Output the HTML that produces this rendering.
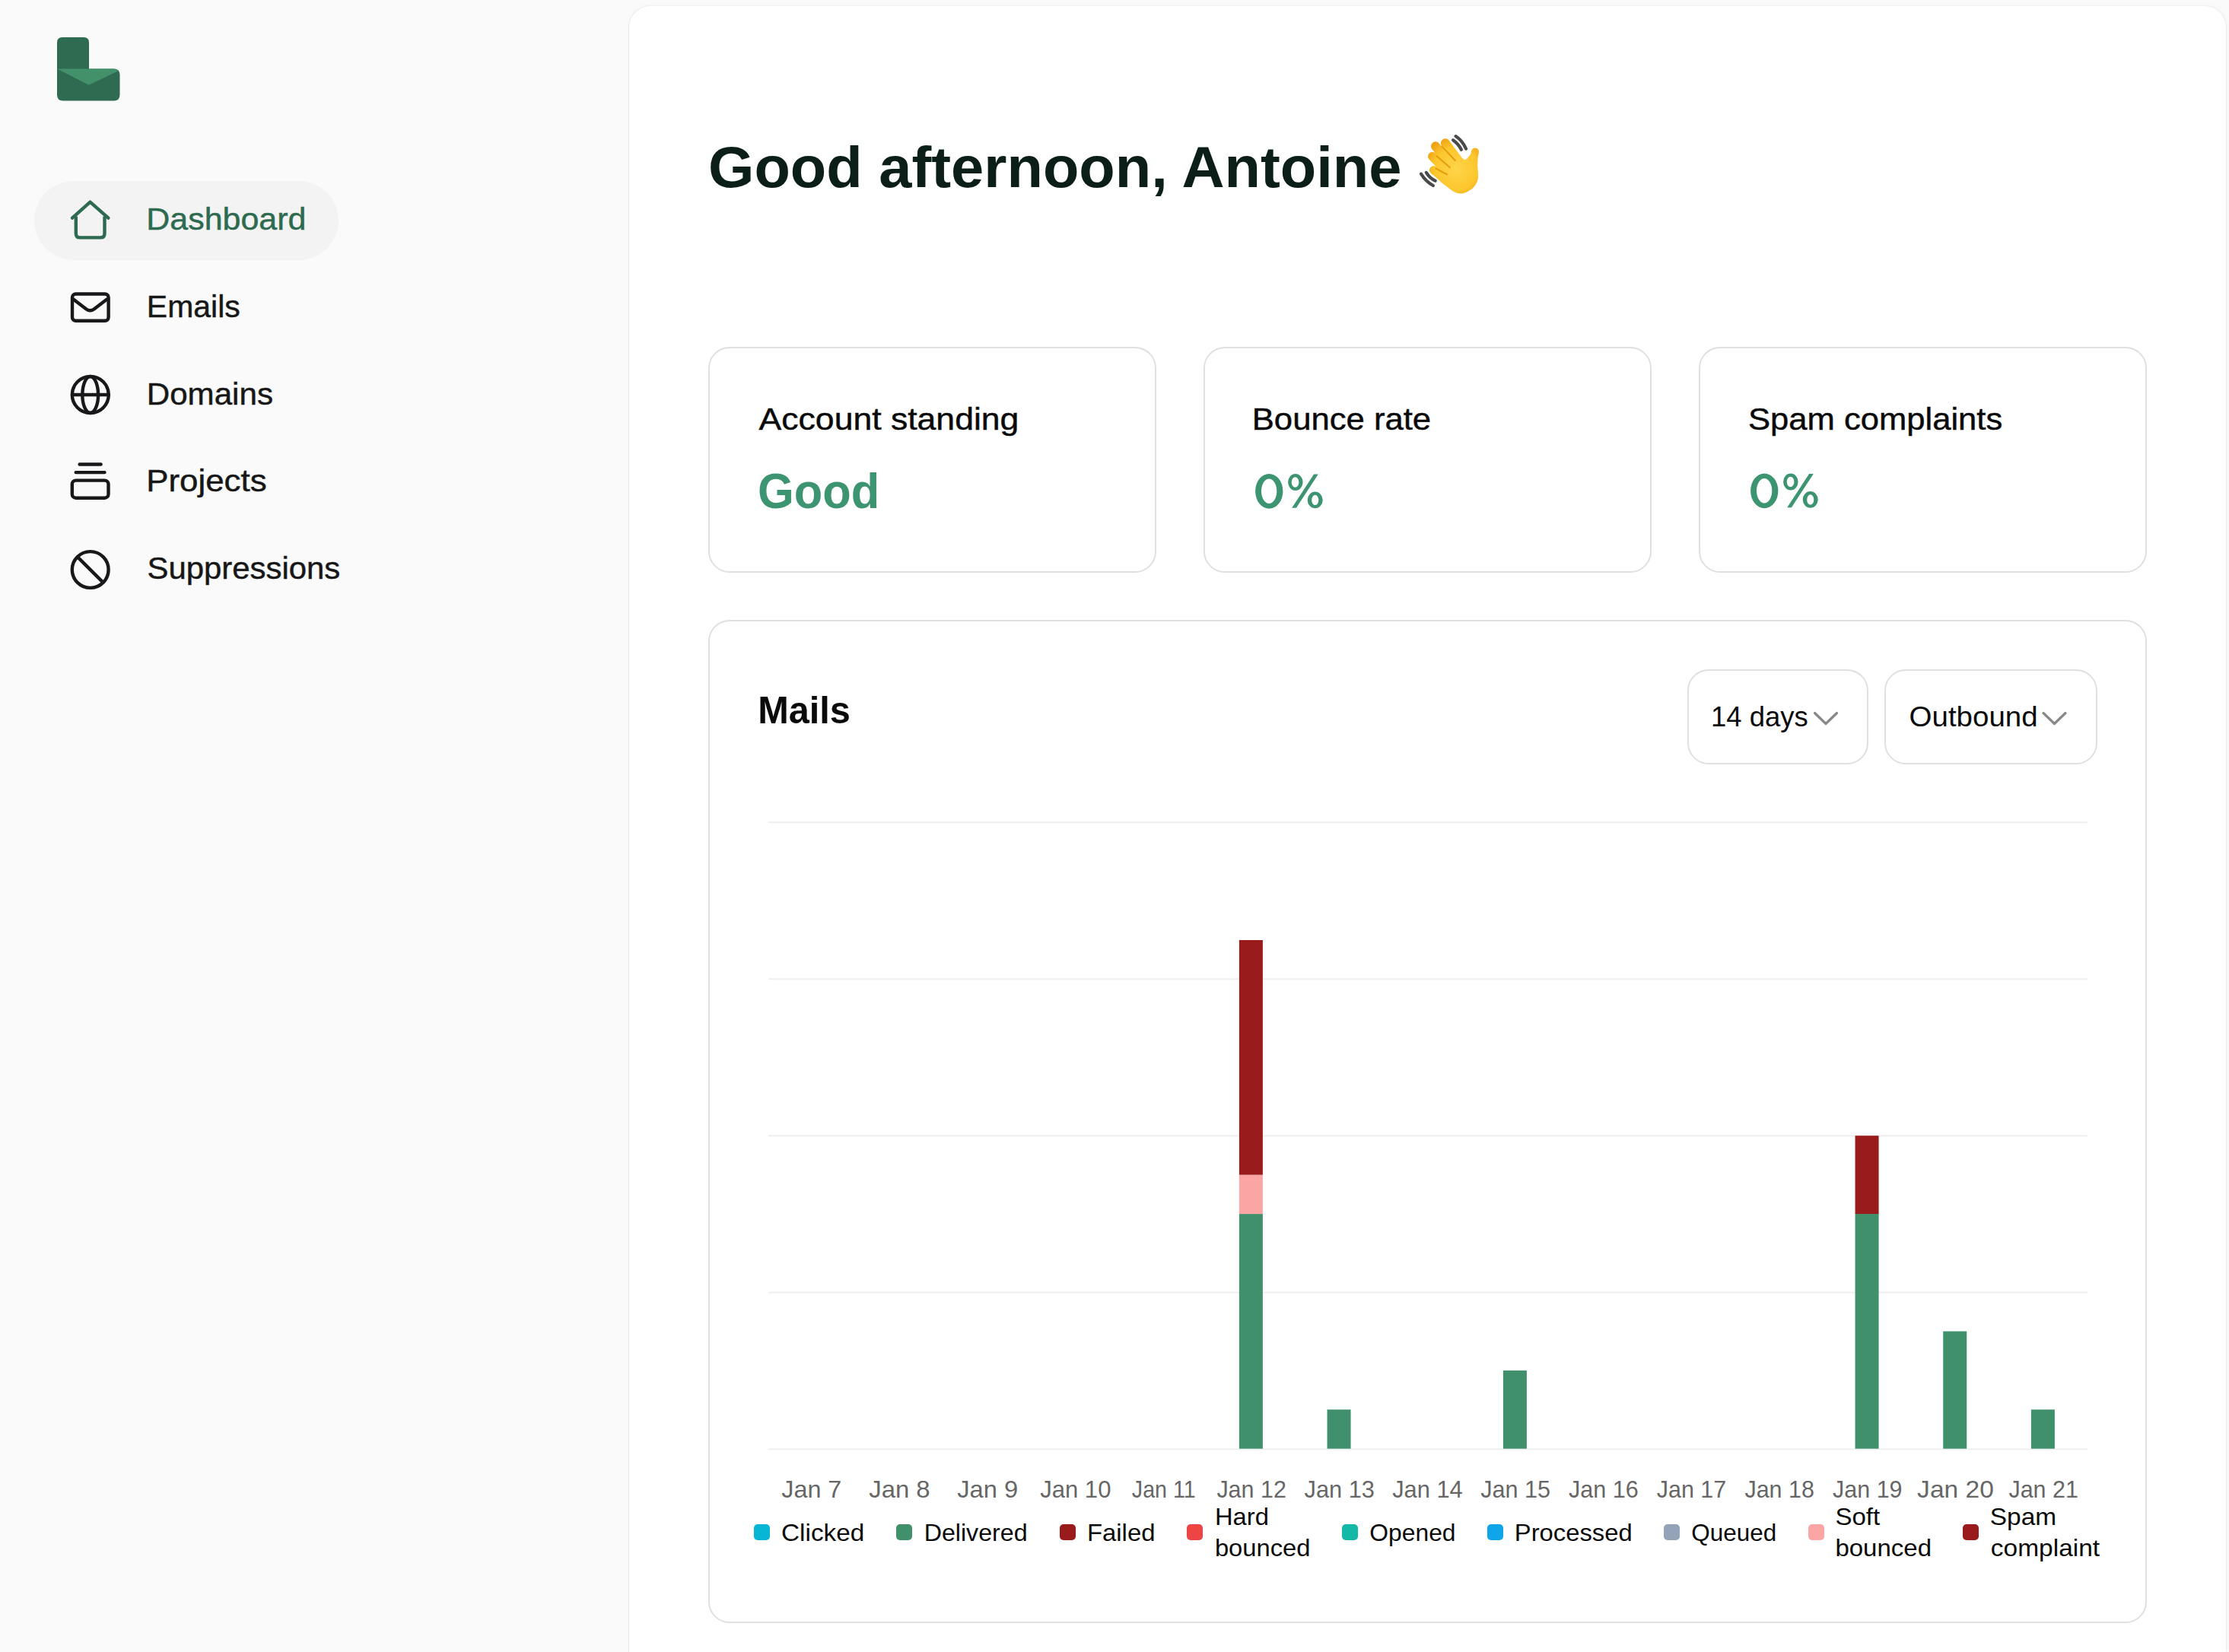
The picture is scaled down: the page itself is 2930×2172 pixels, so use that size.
<!DOCTYPE html>
<html><head><meta charset="utf-8"><title>Dashboard</title>
<style>
html,body{margin:0;padding:0;}
body{width:2930px;height:2172px;overflow:hidden;background:#fafafa;position:relative;font-family:"Liberation Sans",sans-serif;}
.abs{position:absolute;}
.pill{position:absolute;left:45px;top:238px;width:400px;height:104px;border-radius:52px;background:#f3f3f3;}
.panel{position:absolute;left:827px;top:8px;width:2099px;height:2164px;background:#fff;border-radius:28px 28px 0 0;box-shadow:-1px 0 0 #e9e9e9,0 -1px 0 #f0f0f0,1px 0 0 #ececec,0 0 7px rgba(0,0,0,0.045);}
.card{position:absolute;box-sizing:border-box;border:2px solid #e0e0e0;border-radius:28px;background:#fff;}
.dd{position:absolute;box-sizing:border-box;border:2px solid #e0e0e0;border-radius:28px;background:#fff;top:880px;height:125px;}
.sw{position:absolute;top:2004px;width:21px;height:21px;border-radius:5px;}
svg.ov{position:absolute;left:0;top:0;}
</style></head>
<body>
<div class="sidebar abs" style="left:0;top:0;width:827px;height:2172px;"></div>
<div class="pill"></div>
<div class="panel"></div>
<div class="card" style="left:931px;top:456px;width:589px;height:297px;"></div>
<div class="card" style="left:1582px;top:456px;width:589px;height:297px;"></div>
<div class="card" style="left:2233px;top:456px;width:589px;height:297px;"></div>
<div class="card" style="left:931px;top:815px;width:1891px;height:1319px;"></div>
<div class="dd" style="left:2218px;width:238px;"></div>
<div class="dd" style="left:2477px;width:280px;"></div>
<div class="sw" style="left:991px;background:#06b6d4"></div><div class="sw" style="left:1178px;background:#3f906b"></div><div class="sw" style="left:1393px;background:#991b1b"></div><div class="sw" style="left:1560px;background:#ef4444"></div><div class="sw" style="left:1764px;background:#14b8a6"></div><div class="sw" style="left:1955px;background:#0ea5e9"></div><div class="sw" style="left:2187px;background:#94a3b8"></div><div class="sw" style="left:2377px;background:#fca5a5"></div><div class="sw" style="left:2580px;background:#991b1b"></div>
<svg class="ov" width="2930" height="2172" viewBox="0 0 2930 2172" font-family="Liberation Sans, sans-serif">
<!-- logo -->
<g>
<path d="M82 49 H110 Q117 49 117 56 V91 H75 V56 Q75 49 82 49 Z" fill="#2e6b50"/>
<path d="M75 90.6 H149.5 Q157.5 90.6 157.5 98.6 V124.5 Q157.5 132.5 149.5 132.5 H83 Q75 132.5 75 124.5 Z" fill="#2e6b50"/>
<path d="M75 90.6 H149.5 Q154 90.6 156 93 L116.7 111.7 Z" fill="#43916b"/>
</g>
<!-- nav icons -->
<g fill="none" stroke-linecap="round" stroke-linejoin="round" stroke-width="4.4">
<g stroke="#2d6a4f">
<path d="M95 286.6 L118.5 265.6 L142.4 286.6"/>
<path d="M99.8 284.5 V306.9 Q99.8 312.4 105.3 312.4 H132 Q137.5 312.4 137.5 306.9 V284.5" stroke-linecap="butt"/>
</g>
<g stroke="#18181b">
<rect x="95" y="386.5" width="47.6" height="35.2" rx="4.5"/>
<path d="M96.5 393.5 L113.5 406.5 Q118.5 410 123.5 406.5 L140.5 393.5"/>
<circle cx="118.8" cy="519" r="24"/>
<ellipse cx="118.7" cy="519" rx="10.4" ry="24"/>
<path d="M95 519 H142.6"/>
<path d="M104.6 610.5 H132.6"/>
<path d="M99.7 621.1 H137.5"/>
<rect x="94.8" y="631.6" width="47.7" height="23.1" rx="5"/>
<circle cx="118.7" cy="749" r="23.9"/>
<path d="M102.3 732.6 L135.1 765.4"/>
</g>
</g>
<!-- emoji -->
<defs>
<radialGradient id="hg" gradientUnits="userSpaceOnUse" cx="58" cy="52" r="44">
<stop offset="0" stop-color="#ffd54a"/><stop offset="0.65" stop-color="#fcc62c"/><stop offset="1" stop-color="#eea012"/>
</radialGradient>
</defs>
<g transform="translate(1856 170)">
<g stroke="#4a4a4a" stroke-width="4.2" fill="none" stroke-linecap="round">
<path d="M57.5 9.1 Q66 14.5 71.1 25.6"/>
<path d="M54.1 14.2 Q61 19 64.9 26.7"/>
<path d="M12 58.6 Q18.5 69 27.9 74"/>
<path d="M18.8 56.9 Q23.5 64.5 30.7 67.7"/>
</g>
<g stroke="url(#hg)" stroke-linecap="round" fill="none">
<path d="M43.9 18.3 L63 44" stroke-width="12.2"/>
<path d="M31 22.3 L55 52" stroke-width="12"/>
<path d="M26.8 35.6 L50 60" stroke-width="11.6"/>
<path d="M28.4 53.6 L47 68" stroke-width="11"/>
<path d="M83 29.5 L79 50" stroke-width="10"/>
</g>
<path d="M27.5 59.5 L44 42 L66.5 38.1 Q70.3 42.5 73.5 37 L79.5 30.5 L86.5 38 Q85.8 48 87 58.4 Q87.5 66 84.9 70.5 Q81 78 75.7 80.2 Q69 84.8 63.6 84.5 Q58 84 53.9 81.6 L39.4 70.5 Z" fill="url(#hg)"/>
<g stroke="#d98e00" stroke-width="2" fill="none" opacity="0.75" stroke-linecap="round">
<path d="M39.4 22.6 L56.8 41"/>
<path d="M32.6 35.2 L50 50.2"/>
<path d="M31.6 51.6 L46.1 59.4"/>
</g>
</g>
<!-- chevrons -->
<g fill="none" stroke="#888888" stroke-width="3.2" stroke-linecap="round" stroke-linejoin="round">
<path d="M2385.5 937.5 L2400 951.5 L2414.5 937.5"/>
<path d="M2686 937.5 L2700.5 951.5 L2715 937.5"/>
</g>
<!-- grid -->
<rect x="1010" y="1904.40" width="1733.6" height="2" fill="#efefef"/><rect x="1010" y="1698.35" width="1733.6" height="2" fill="#efefef"/><rect x="1010" y="1492.30" width="1733.6" height="2" fill="#efefef"/><rect x="1010" y="1286.25" width="1733.6" height="2" fill="#efefef"/><rect x="1010" y="1080.20" width="1733.6" height="2" fill="#efefef"/>
<rect x="1628.89" y="1596.06" width="31" height="308.64" fill="#3f906b"/><rect x="1628.89" y="1544.62" width="31" height="51.44" fill="#fca5a5"/><rect x="1628.89" y="1235.98" width="31" height="308.64" fill="#991b1b"/><rect x="1744.56" y="1853.26" width="31" height="51.44" fill="#3f906b"/><rect x="1975.89" y="1801.82" width="31" height="102.88" fill="#3f906b"/><rect x="2438.57" y="1596.06" width="31" height="308.64" fill="#3f906b"/><rect x="2438.57" y="1493.18" width="31" height="102.88" fill="#991b1b"/><rect x="2554.24" y="1750.38" width="31" height="154.32" fill="#3f906b"/><rect x="2669.91" y="1853.26" width="31" height="51.44" fill="#3f906b"/>
<text x="192.29" y="301.60" font-size="40.12" font-weight="400" fill="#2d6a4f" stroke="#2d6a4f" stroke-width="0.45" textLength="210.09" lengthAdjust="spacingAndGlyphs">Dashboard</text><text x="192.88" y="417.10" font-size="40.7" font-weight="400" fill="#171717" stroke="#171717" stroke-width="0.45" textLength="122.82" lengthAdjust="spacingAndGlyphs">Emails</text><text x="192.74" y="531.80" font-size="39.97" font-weight="400" fill="#171717" stroke="#171717" stroke-width="0.45" textLength="166.22" lengthAdjust="spacingAndGlyphs">Domains</text><text x="192.25" y="645.70" font-size="40.41" font-weight="400" fill="#171717" stroke="#171717" stroke-width="0.45" textLength="158.30" lengthAdjust="spacingAndGlyphs">Projects</text><text x="193.44" y="760.80" font-size="40.7" font-weight="400" fill="#171717" stroke="#171717" stroke-width="0.45" textLength="253.81" lengthAdjust="spacingAndGlyphs">Suppressions</text><text x="931.02" y="245.50" font-size="75.58" font-weight="700" fill="#0b1f18" textLength="911.38" lengthAdjust="spacingAndGlyphs">Good afternoon, Antoine</text><text x="997.60" y="565.00" font-size="40.26" font-weight="400" fill="#0a0a0a" stroke="#0a0a0a" stroke-width="0.45" textLength="341.79" lengthAdjust="spacingAndGlyphs">Account standing</text><text x="1645.75" y="565.00" font-size="40.26" font-weight="400" fill="#0a0a0a" stroke="#0a0a0a" stroke-width="0.45" textLength="235.41" lengthAdjust="spacingAndGlyphs">Bounce rate</text><text x="2297.93" y="565.20" font-size="40.26" font-weight="400" fill="#0a0a0a" stroke="#0a0a0a" stroke-width="0.45" textLength="334.34" lengthAdjust="spacingAndGlyphs">Spam complaints</text><text x="996.09" y="667.80" font-size="65.41" font-weight="700" fill="#3d9470" textLength="160.16" lengthAdjust="spacingAndGlyphs">Good</text><path id="pct" transform="translate(1640 615)" fill="#3d9470" fill-rule="evenodd" d="M10.10 30.85 a18.15 22.95 0 1 0 36.30 0 a18.15 22.95 0 1 0 -36.30 0 Z M18.00 30.75 a10.15 16.15 0 1 0 20.30 0 a10.15 16.15 0 1 0 -20.30 0 Z M53.10 19.00 a9.75 10.9 0 1 0 19.50 0 a9.75 10.9 0 1 0 -19.50 0 Z M57.70 19.00 a4.85 6.7 0 1 0 9.70 0 a4.85 6.7 0 1 0 -9.70 0 Z M78.70 42.45 a10 10.85 0 1 0 20.00 0 a10 10.85 0 1 0 -20.00 0 Z M84.20 42.45 a4.55 6.65 0 1 0 9.10 0 a4.55 6.65 0 1 0 -9.10 0 Z M87.1 8.4 L92.8 8.4 L63.9 52.8 L58.2 52.8 Z"/><path transform="translate(2291 614.5)" fill="#3d9470" fill-rule="evenodd" d="M10.10 30.85 a18.15 22.95 0 1 0 36.30 0 a18.15 22.95 0 1 0 -36.30 0 Z M18.00 30.75 a10.15 16.15 0 1 0 20.30 0 a10.15 16.15 0 1 0 -20.30 0 Z M53.10 19.00 a9.75 10.9 0 1 0 19.50 0 a9.75 10.9 0 1 0 -19.50 0 Z M57.70 19.00 a4.85 6.7 0 1 0 9.70 0 a4.85 6.7 0 1 0 -9.70 0 Z M78.70 42.45 a10 10.85 0 1 0 20.00 0 a10 10.85 0 1 0 -20.00 0 Z M84.20 42.45 a4.55 6.65 0 1 0 9.10 0 a4.55 6.65 0 1 0 -9.10 0 Z M87.1 8.4 L92.8 8.4 L63.9 52.8 L58.2 52.8 Z"/><text x="996.13" y="950.70" font-size="50.87" font-weight="700" fill="#0a0a0a" textLength="121.68" lengthAdjust="spacingAndGlyphs">Mails</text><text x="2249.02" y="955.00" font-size="36.77" font-weight="400" fill="#0a0a0a" textLength="127.75" lengthAdjust="spacingAndGlyphs">14 days</text><text x="2509.61" y="955.00" font-size="36.77" font-weight="400" fill="#0a0a0a" textLength="169.01" lengthAdjust="spacingAndGlyphs">Outbound</text><text x="1027.23" y="1968.90" font-size="32.27" font-weight="400" fill="#666666" textLength="79.14" lengthAdjust="spacingAndGlyphs">Jan 7</text><text x="1142.29" y="1968.90" font-size="32.27" font-weight="400" fill="#666666" textLength="80.37" lengthAdjust="spacingAndGlyphs">Jan 8</text><text x="1258.16" y="1968.90" font-size="32.27" font-weight="400" fill="#666666" textLength="79.96" lengthAdjust="spacingAndGlyphs">Jan 9</text><text x="1367.13" y="1968.90" font-size="32.27" font-weight="400" fill="#666666" textLength="93.32" lengthAdjust="spacingAndGlyphs">Jan 10</text><text x="1487.83" y="1968.90" font-size="32.27" font-weight="400" fill="#666666" textLength="83.80" lengthAdjust="spacingAndGlyphs">Jan 11</text><text x="1599.39" y="1968.90" font-size="32.27" font-weight="400" fill="#666666" textLength="91.49" lengthAdjust="spacingAndGlyphs">Jan 12</text><text x="1714.60" y="1968.90" font-size="32.27" font-weight="400" fill="#666666" textLength="92.40" lengthAdjust="spacingAndGlyphs">Jan 13</text><text x="1830.22" y="1968.90" font-size="32.27" font-weight="400" fill="#666666" textLength="92.51" lengthAdjust="spacingAndGlyphs">Jan 14</text><text x="1946.20" y="1968.90" font-size="32.27" font-weight="400" fill="#666666" textLength="91.89" lengthAdjust="spacingAndGlyphs">Jan 15</text><text x="2061.92" y="1968.90" font-size="32.27" font-weight="400" fill="#666666" textLength="91.79" lengthAdjust="spacingAndGlyphs">Jan 16</text><text x="2177.74" y="1968.90" font-size="32.27" font-weight="400" fill="#666666" textLength="91.49" lengthAdjust="spacingAndGlyphs">Jan 17</text><text x="2293.41" y="1968.90" font-size="32.27" font-weight="400" fill="#666666" textLength="91.49" lengthAdjust="spacingAndGlyphs">Jan 18</text><text x="2409.08" y="1968.90" font-size="32.27" font-weight="400" fill="#666666" textLength="91.49" lengthAdjust="spacingAndGlyphs">Jan 19</text><text x="2520.11" y="1968.90" font-size="32.27" font-weight="400" fill="#666666" textLength="100.77" lengthAdjust="spacingAndGlyphs">Jan 20</text><text x="2640.42" y="1968.90" font-size="32.27" font-weight="400" fill="#666666" textLength="91.49" lengthAdjust="spacingAndGlyphs">Jan 21</text><text x="1027.08" y="2026.00" font-size="31.4" font-weight="400" fill="#0a0a0a" textLength="109.18" lengthAdjust="spacingAndGlyphs">Clicked</text><text x="1214.65" y="2026.00" font-size="31.4" font-weight="400" fill="#0a0a0a" textLength="136.00" lengthAdjust="spacingAndGlyphs">Delivered</text><text x="1428.90" y="2026.00" font-size="31.4" font-weight="400" fill="#0a0a0a" textLength="89.57" lengthAdjust="spacingAndGlyphs">Failed</text><text x="1596.91" y="2005.00" font-size="31.4" font-weight="400" fill="#0a0a0a" textLength="70.95" lengthAdjust="spacingAndGlyphs">Hard</text><text x="1596.91" y="2046.00" font-size="31.4" font-weight="400" fill="#0a0a0a" textLength="125.60" lengthAdjust="spacingAndGlyphs">bounced</text><text x="1800.39" y="2026.00" font-size="31.4" font-weight="400" fill="#0a0a0a" textLength="113.15" lengthAdjust="spacingAndGlyphs">Opened</text><text x="1990.81" y="2026.00" font-size="31.4" font-weight="400" fill="#0a0a0a" textLength="154.90" lengthAdjust="spacingAndGlyphs">Processed</text><text x="2223.30" y="2026.00" font-size="31.4" font-weight="400" fill="#0a0a0a" textLength="111.92" lengthAdjust="spacingAndGlyphs">Queued</text><text x="2412.40" y="2005.00" font-size="31.4" font-weight="400" fill="#0a0a0a" textLength="58.71" lengthAdjust="spacingAndGlyphs">Soft</text><text x="2412.40" y="2046.00" font-size="31.4" font-weight="400" fill="#0a0a0a" textLength="126.63" lengthAdjust="spacingAndGlyphs">bounced</text><text x="2615.77" y="2005.00" font-size="31.4" font-weight="400" fill="#0a0a0a" textLength="87.50" lengthAdjust="spacingAndGlyphs">Spam</text><text x="2616.83" y="2046.00" font-size="31.4" font-weight="400" fill="#0a0a0a" textLength="143.35" lengthAdjust="spacingAndGlyphs">complaint</text>
</svg>
</body></html>
